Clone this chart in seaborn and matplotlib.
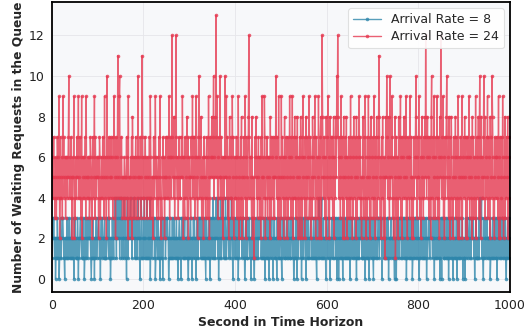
import numpy as np
import pandas as pd
import matplotlib
matplotlib.use("Agg")
import matplotlib.pyplot as plt
import seaborn as sns

# Queue length per second (hand-estimated).
# Characters: 0-9 as digits, a=10, b=11, c=12, d=13
queue_rate8 = (
    "1232321201 2132120123 1223321102 1213221231 2123121203"
    "2312113202 1233212131 2013122312 3223210121 3120212312"
    "2332120231 3221231121 2332131201 2132213242 3142232413"
    "2431322142 3120341223 2342312332 4213123142 2302143121"
    "3241213142 1231402312 3223120132 2132120231 1302322312"
    "2332201312 1213122321 2131201232 1203321312 3122213102"
    "1233120213 2312203121 3322312132 1213210312 1231203122"
    "3142131242 2314023142 1324213124 3122341223 1242203132"
    "2132213021 3322312331 2013213122 3212203121 3102131213"
    "1232233121 2131203213 1213023122 3120233112 2031312132"
    "2103122312 1233121321 1232213201 2131203122 3321302132"
    "1233203121 3122231121 2331213102 3214123124 1213122203"
    "3122312021 2331213322 1302130213 2131203122 3112312131"
    "2033123122 1321203121 3122332113 1213021312 1302132213"
    "2103122312 1233213322 3022213121 2131302122 3122213102"
    "1203122312 2331213213 1213021321 3122312013 2133213122"
    "3102132213 1213122302 1233213322 2132203121 3122312013"
    "2033213122 1312130213 2313120312 1213021321 3122213021"
    "1203122312 2331213322 3120213112 2131423341 2103122312"
    "3122213012 1233121321 1302132213 2133213122 3102132213"
)
queue_rate24 = (
    "5465745364 3576459247 5463957456 3654657a45 6475246592"
    "4365475694 5746392564 6457394564 5634765237 4569375465"
    "5624763546 4756394562 a546375647 5463749562 7456b459a4"
    "6475345365 4357462935 5463728563 46573645a3 5647536b74"
    "4635746534 6547396453 5276459563 4563749524 3657462547"
    "5746459376 64c7564835 7c65463574 4657596264 3754683725"
    "6453765947 5736495624 7a64758346 5276453674 6395247658"
    "657a4685d7 5936475a54 73652645a6 5947362584 7463957264"
    "4657364952 6374825637 5496273548 c764653825 4136758463"
    "5746362759 3654972465 7365462837 465735375a 6475294625"
    "3957462583 6475273649 5736492574 8463758426 5728462795"
    "4627583746 5934762538 6475932746 3596247825 c864753628"
    "5749362857 4673582647 85a7c86475 3964752826 5748263574"
    "6395472638 4756283574 6947352468 5374962537 4965273846"
    "5739462758 3647b85362 7485263158 5a746853a4 6597342658"
    "1473652847 5936274658 4759362746 6395472523 74658a6375"
    "5947362584 637485c746 857364728a 4763953647 593746285c"
    "6475936274 58a7463852 7486352746 5837462952 6475392657"
    "4857262746 5936475283 7465392647 5837a62854 647a583647"
    "5937462857 4a86352746 6475392627 5473962538 3647582647"
)
series_labels = ["Arrival Rate = 8", "Arrival Rate = 24"]
series_colors = ["#2E86AB", "#E63950"]
x_ticks = [0, 200, 400, 600, 800, 1000]
y_ticks = [0, 2, 4, 6, 8, 10, 12]


def decode(s):
    return [int(c, 16) for c in s.replace(" ", "")]


vals8 = decode(queue_rate8)
vals24 = decode(queue_rate24)

df = pd.DataFrame({
    "t": list(range(len(vals8))) + list(range(len(vals24))),
    "q": vals8 + vals24,
    "series": [series_labels[0]] * len(vals8) + [series_labels[1]] * len(vals24),
})

sns.set_theme(style="whitegrid")
plt.rcParams["font.family"] = ["DejaVu Sans"]

fig, ax = plt.subplots(figsize=(5.29, 3.34), dpi=100)
fig.subplots_adjust(left=0.098, right=0.964, top=0.994, bottom=0.126)
ax.set_facecolor("#f7f8fa")

sns.lineplot(data=df, x="t", y="q", hue="series", hue_order=series_labels,
             palette=series_colors, marker="o", markersize=2.6,
             markeredgewidth=0, linewidth=1.0, alpha=0.8, ax=ax)

ax.set_xlim(0, 1000)
ax.set_ylim(-0.65, 13.65)
ax.set_xticks(x_ticks)
ax.set_yticks(y_ticks)
ax.tick_params(axis="both", labelsize=9, labelcolor="#222222", length=3,
               width=0.8, direction="out", pad=2, color="black")
ax.grid(True, color="#e6e6ea", linewidth=0.6)
for sp in ax.spines.values():
    sp.set_color("black")
    sp.set_linewidth(1.3)

ax.set_xlabel("Second in Time Horizon", fontsize=9, fontweight="bold", labelpad=3)
ax.set_ylabel("Number of Waiting Requests in the Queue", fontsize=8.8,
              fontweight="bold", labelpad=3)

leg = ax.legend(loc="upper right", fontsize=9, frameon=True, framealpha=0.9,
                borderpad=0.4, handlelength=2.2, labelspacing=0.3)
leg.get_frame().set_edgecolor("#dddddd")
leg.get_frame().set_linewidth(0.8)

fig.savefig("out.png", dpi=100)
